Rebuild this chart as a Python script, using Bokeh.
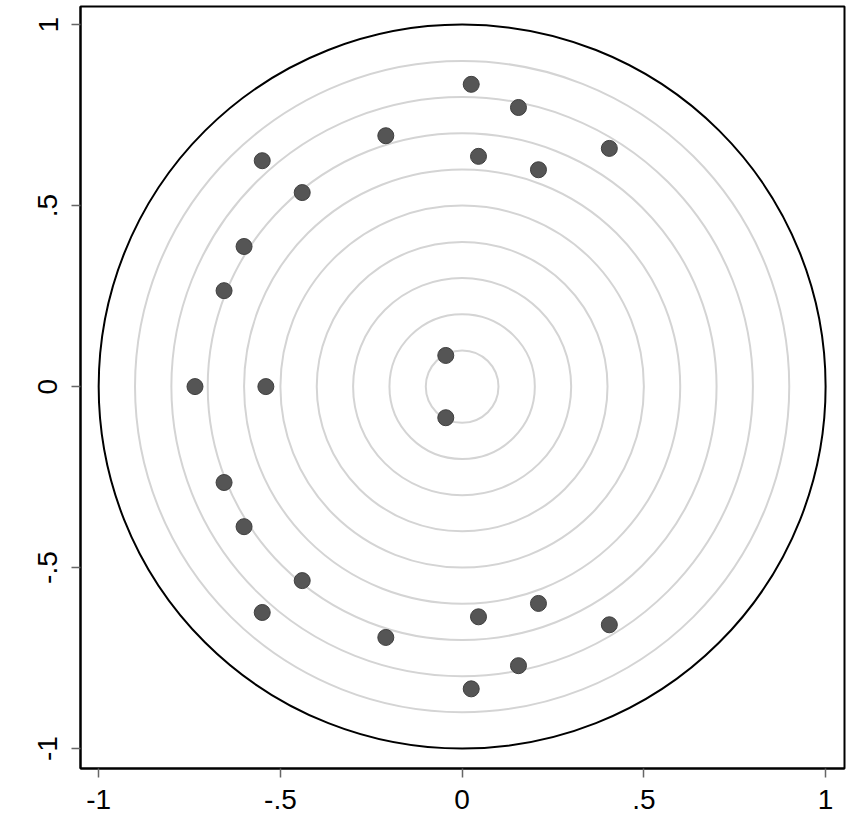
from bokeh.plotting import figure
from bokeh.models import Range1d, FixedTicker
from bokeh.embed import file_html
from bokeh.resources import INLINE

# Data
ring_radii = [0.1, 0.2, 0.3, 0.4, 0.5, 0.6, 0.7, 0.8, 0.9]
outer_radius = [1.0]
pts_x = [0.025, 0.155, 0.405, -0.21, 0.045, 0.21, -0.55, -0.44, -0.60, -0.655,
         -0.735, -0.54, -0.045, -0.045,
         -0.655, -0.60, -0.44, -0.55, -0.21, 0.045, 0.21, 0.405, 0.155, 0.025]
pts_y = [0.835, 0.771, 0.658, 0.693, 0.636, 0.599, 0.624, 0.536, 0.387, 0.265,
         0.0, 0.0, 0.086, -0.086,
         -0.265, -0.387, -0.536, -0.624, -0.693, -0.636, -0.599, -0.658, -0.771, -0.835]
tick_vals = [-1, -0.5, 0, 0.5, 1]
tick_labels = {-1: "-1", -0.5: "-.5", 0: "0", 0.5: ".5", 1: "1"}

p = figure(width=848, height=813, output_backend="svg", toolbar_location=None,
           x_range=Range1d(-1.05, 1.052), y_range=Range1d(-1.055, 1.05),
           min_border_left=80, min_border_right=4, min_border_top=6, min_border_bottom=52)
p.frame_width = 764
p.frame_height = 762

p.xgrid.visible = False
p.ygrid.visible = False
p.outline_line_color = "black"
p.outline_line_width = 2
p.background_fill_color = "white"
p.border_fill_color = "white"

p.ellipse(x=[0] * len(ring_radii), y=[0] * len(ring_radii),
          width=[2 * r for r in ring_radii], height=[2 * r for r in ring_radii],
          fill_color=None, line_color="#d4d4d4", line_width=2)
p.ellipse(x=[0], y=[0], width=[2 * r for r in outer_radius], height=[2 * r for r in outer_radius],
          fill_color=None, line_color="black", line_width=2)

p.scatter(pts_x, pts_y, size=16, fill_color="#555555", line_color="#3f3f3f", line_width=1)

for ax in (p.xaxis[0], p.yaxis[0]):
    ax.ticker = FixedTicker(ticks=tick_vals)
    ax.major_label_overrides = {k: v for k, v in tick_labels.items()}
    ax.minor_tick_line_color = None
    ax.major_tick_in = 0
    ax.major_tick_out = 9
    ax.major_tick_line_color = "#666666"
    ax.major_tick_line_width = 1.5
    ax.axis_line_color = "black"
    ax.axis_line_width = 2
    ax.major_label_text_font = "Liberation Sans"
    ax.major_label_text_font_size = "28px"
    ax.major_label_text_color = "black"

p.xaxis[0].major_label_standoff = 12
p.yaxis[0].major_label_standoff = 14
p.yaxis[0].major_label_orientation = "vertical"

open("out.html", "w").write(file_html(p, INLINE))
